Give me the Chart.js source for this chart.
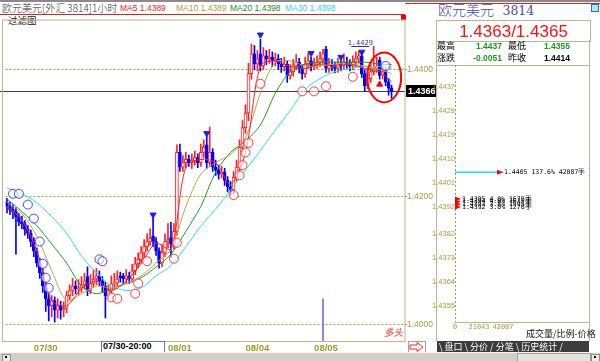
<!DOCTYPE html>
<html><head><meta charset="utf-8">
<script src="https://cdn.jsdelivr.net/npm/chart.js@4.4.1/dist/chart.umd.min.js"></script>
<style>
html,body{margin:0;padding:0}
body{width:600px;height:361px;overflow:hidden;background:#fff;position:relative;font-family:"Liberation Sans",Arial,"Noto Sans CJK SC",sans-serif}
.a{position:absolute;white-space:nowrap;line-height:1}
#c1{position:absolute;left:0;top:14px}
#c2{position:absolute;left:430px;top:60px}
</style></head><body>
<script>
// ---------- DATA ----------
const opens = [1.4192,1.4185,1.4180,1.4177,1.4169,1.4161,1.4158,1.4149,1.4143,1.4130,
1.4115,1.4096,1.4081,1.4060,1.4040,1.4029,1.4037,1.4022,1.4029,1.4022,
1.4025,1.4045,1.4053,1.4060,1.4056,1.4057,1.4062,1.4075,1.4053,1.4064,
1.4071,1.4076,1.4068,1.4060,1.4045,1.4053,1.4064,1.4065,1.4076,1.4076,
1.4071,1.4076,1.4071,1.4084,1.4095,1.4102,1.4112,1.4122,1.4130,1.4138,
1.4130,1.4115,1.4096,1.4112,1.4130,1.4136,1.4126,1.4146,1.4270,1.4247,
1.4254,1.4259,1.4254,1.4257,1.4262,1.4254,1.4270,1.4282,1.4254,1.4270,
1.4247,1.4242,1.4236,1.4239,1.4226,1.4216,1.4211,1.4231,1.4247,1.4278,
1.4309,1.4332,1.4394,1.4425,1.4409,1.4425,1.4406,1.4422,1.4417,1.4420,
1.4414,1.4417,1.4409,1.4405,1.4409,1.4391,1.4397,1.4406,1.4412,1.4402,
1.4394,1.4409,1.4414,1.4406,1.4409,1.4412,1.4417,1.4432,1.4402,1.4409,
1.4406,1.4402,1.4409,1.4406,1.4412,1.4409,1.4406,1.4412,1.4417,1.4422,
1.4394,1.4375,1.4386,1.4397,1.4402,1.4415,1.4391,1.4397,1.4381,1.4371];
const closes = [1.4185,1.4180,1.4177,1.4169,1.4161,1.4158,1.4149,1.4143,1.4130,1.4115,
1.4096,1.4081,1.4060,1.4040,1.4029,1.4037,1.4022,1.4029,1.4022,1.4025,
1.4045,1.4053,1.4060,1.4056,1.4057,1.4062,1.4068,1.4053,1.4064,1.4071,
1.4076,1.4068,1.4060,1.4045,1.4053,1.4064,1.4065,1.4071,1.4073,1.4071,
1.4076,1.4071,1.4084,1.4095,1.4102,1.4112,1.4122,1.4130,1.4135,1.4130,
1.4115,1.4096,1.4112,1.4130,1.4133,1.4126,1.4146,1.4270,1.4247,1.4254,
1.4259,1.4254,1.4257,1.4262,1.4254,1.4270,1.4278,1.4254,1.4270,1.4247,
1.4242,1.4236,1.4239,1.4226,1.4216,1.4211,1.4231,1.4247,1.4278,1.4309,
1.4332,1.4394,1.4425,1.4409,1.4417,1.4406,1.4422,1.4417,1.4420,1.4414,
1.4417,1.4409,1.4405,1.4409,1.4391,1.4397,1.4406,1.4412,1.4402,1.4394,
1.4409,1.4414,1.4406,1.4409,1.4412,1.4417,1.4425,1.4402,1.4409,1.4406,
1.4402,1.4409,1.4406,1.4412,1.4409,1.4406,1.4412,1.4417,1.4422,1.4394,
1.4375,1.4386,1.4397,1.4402,1.4406,1.4391,1.4397,1.4381,1.4371,1.4366];
const highs = [1.4198,1.4192,1.4188,1.4183,1.4174,1.4170,1.4163,1.4155,1.4148,1.4136,
1.4120,1.4104,1.4088,1.4066,1.4048,1.4045,1.4043,1.4040,1.4036,1.4035,
1.4052,1.4062,1.4072,1.4068,1.4070,1.4075,1.4080,1.4090,1.4078,1.4085,
1.4088,1.4084,1.4075,1.4066,1.4062,1.4076,1.4080,1.4084,1.4082,1.4080,
1.4086,1.4082,1.4094,1.4105,1.4112,1.4122,1.4133,1.4142,1.4150,1.4168,
1.4136,1.4120,1.4125,1.4142,1.4158,1.4160,1.4158,1.4282,1.4283,1.4265,
1.4270,1.4266,1.4268,1.4272,1.4268,1.4283,1.4290,1.4296,1.4310,1.4276,
1.4258,1.4250,1.4248,1.4245,1.4232,1.4224,1.4240,1.4258,1.4290,1.4320,
1.4345,1.4410,1.4440,1.4438,1.4430,1.4448,1.4435,1.4430,1.4432,1.4428,
1.4426,1.4424,1.4418,1.4420,1.4414,1.4408,1.4416,1.4424,1.4418,1.4408,
1.4420,1.4426,1.4420,1.4418,1.4422,1.4428,1.4432,1.4437,1.4418,1.4416,
1.4412,1.4418,1.4415,1.4425,1.4420,1.4416,1.4422,1.4428,1.4429,1.4426,
1.4400,1.4396,1.4408,1.4437,1.4420,1.4420,1.4405,1.4402,1.4386,1.4376];
const lows = [1.4175,1.4172,1.4166,1.4110,1.4155,1.4150,1.4140,1.4135,1.4122,1.4106,
1.4090,1.4072,1.4050,1.4020,1.4005,1.4012,1.4003,1.4010,1.4008,1.4012,
1.4018,1.4038,1.4045,1.4048,1.4046,1.4050,1.4055,1.4045,1.4048,1.4058,
1.4062,1.4060,1.4050,1.4010,1.4040,1.4048,1.4056,1.4060,1.4066,1.4064,
1.4065,1.4064,1.4066,1.4078,1.4088,1.4096,1.4105,1.4115,1.4124,1.4122,
1.4108,1.4088,1.4090,1.4106,1.4120,1.4105,1.4118,1.4140,1.4240,1.4240,
1.4246,1.4248,1.4245,1.4250,1.4246,1.4248,1.4262,1.4245,1.4248,1.4240,
1.4234,1.4228,1.4230,1.4218,1.4208,1.4203,1.4204,1.4225,1.4240,1.4270,
1.4300,1.4320,1.4385,1.4400,1.4398,1.4398,1.4400,1.4408,1.4410,1.4405,
1.4406,1.4400,1.4396,1.4398,1.4380,1.4385,1.4390,1.4400,1.4395,1.4385,
1.4388,1.4402,1.4398,1.4400,1.4402,1.4405,1.4410,1.4396,1.4396,1.4398,
1.4395,1.4396,1.4398,1.4400,1.4402,1.4398,1.4400,1.4405,1.4410,1.4388,
1.4366,1.4370,1.4380,1.4392,1.4396,1.4385,1.4385,1.4375,1.4360,1.4355];

const maIdx = [0,5,10,15,20,25,30,35,40,45,50,55,60,65,70,75,80,85,90,95,100,105,110,115,120,125,129];
const ma5  = [1.4185,1.4164,1.4115,1.4037,1.4029,1.4056,1.4068,1.4053,1.4068,1.4096,1.4127,1.4118,1.4247,1.4259,1.4254,1.4220,1.4270,1.4406,1.4414,1.4405,1.4402,1.4409,1.4405,1.4409,1.4402,1.4397,1.4381];
const ma10 = [1.4192,1.4174,1.4138,1.4084,1.4037,1.4048,1.4060,1.4057,1.4064,1.4076,1.4096,1.4118,1.4185,1.4236,1.4254,1.4267,1.4293,1.4363,1.4412,1.4414,1.4406,1.4406,1.4409,1.4409,1.4406,1.4400,1.4394];
const ma20 = [1.4197,1.4177,1.4155,1.4126,1.4096,1.4060,1.4048,1.4056,1.4064,1.4073,1.4090,1.4110,1.4146,1.4185,1.4239,1.4270,1.4288,1.4313,1.4363,1.4397,1.4409,1.4412,1.4412,1.4412,1.4412,1.4409,1.4408];
const ma30 = [1.4214,1.4205,1.4191,1.4169,1.4143,1.4107,1.4081,1.4060,1.4053,1.4057,1.4076,1.4092,1.4122,1.4154,1.4181,1.4211,1.4242,1.4273,1.4305,1.4336,1.4369,1.4386,1.4397,1.4402,1.4405,1.4405,1.4403];
const maLabels = ['MA5 1.4389','MA10 1.4389','MA20 1.4398','MA30 1.4398'];

const sellIdx = [2,4,7,9,11,12,13,14,31,32,127];
const sellPx  = [1.4205,1.4205,1.4188,1.4166,1.4130,1.4095,1.4073,1.4057,1.4102,1.4099,1.4406];
const buyIdx = [35,37,43,44,47,56,57,76,78,79,80,81,85,99,103,107,116];
const buyPx  = [1.4042,1.4040,1.4048,1.4064,1.4099,1.4103,1.4128,1.4203,1.4234,1.4250,1.4270,1.4285,1.4378,1.4366,1.4366,1.4374,1.4389];
const triDownIdx = [49,67,85,102,112,119];
const triDownPx  = [1.4172,1.4300,1.4455,1.4426,1.4420,1.4428];
const triUpIdx = [125];
const triUpPx  = [1.4377];

const dateTickIdx = [13,58,84,107];
const dateTickText = ['07/30','08/01','08/04','08/05'];
const yTickVals = [1.4000,1.4200,1.4400];
const lastPrice = 1.4366;
const markIdx = 106, markTop = 1.4040;

const pvPrices = [1.4405,1.4395,1.4394,1.4393,1.4392];
const pvVolumes = [42087,1679,1635,1595,1270];
const pvPct = ['137.6%','4.0%','4.0%','3.8%','3.0%'];
const pvTickVals = [1.4355,1.4364,1.4373,1.4382,1.4392,1.4401,1.4410,1.4419,1.4428,1.4437];
const volTickVals = [0,21043,42087];
</script>

<div class="a" style="left:0;top:0;width:600px;height:2px;background:#8a8a8a"></div>
<div class="a" style="left:405px;top:3px;width:195px;height:1px;background:#e02020"></div>
<div class="a" style="left:0;top:14px;width:405px;height:1px;background:#e02020"></div>
<div class="a" style="left:2px;top:3px;font-size:10px;color:#333;font-family:'Noto Sans CJK SC';font-weight:300">欧元美元[外汇 3814]1小时</div>
<div class="a" id="malab" style="top:4px;font-size:8.5px"></div>
<div class="a" style="left:8px;top:16px;font-size:9.5px;color:#222;font-family:'Noto Sans CJK SC'">过滤图</div>
<div class="a" style="left:401px;top:15px;width:5px;height:5px;background:#ff0000"></div>

<canvas id="c1" width="437" height="341"></canvas>

<div class="a" style="left:101px;top:341px;width:61px;height:10px;border:1px solid #6a6af0;border-bottom:none;background:#fff;font-size:9px;font-weight:bold;color:#000;padding-left:1px">07/30-20:00</div>
<div class="a" style="left:384px;top:328px;font-size:9.5px;color:#ff2020;font-family:'Noto Sans CJK SC';font-style:italic">多头</div>

<!-- right panel -->
<div class="a" style="left:438px;top:3px;font-size:14px;color:#4a4aa8;font-family:'DejaVu Serif','Noto Sans CJK SC';font-weight:300">欧元美元 <span style="font-size:12.5px">&nbsp;3814</span></div>
<div class="a" style="left:591px;top:4px;width:6px;height:6px;border:1px solid #3a6ab0;background:#a8e8f0"></div>
<div class="a" style="left:436px;top:20px;width:153px;height:20px;border:1px solid #b8b888"></div>
<div class="a" id="bigq" style="left:437px;top:23px;width:153px;text-align:center;font-size:17px;color:#ff1010"></div>
<div class="a" style="left:437px;top:41px;font-size:9px;color:#000;font-family:'Noto Sans CJK SC'">最高</div>
<div class="a" style="left:462px;top:42px;width:40px;text-align:right;font-size:8.5px;font-weight:bold;color:#1a9a1a">1.4437</div>
<div class="a" style="left:508px;top:41px;font-size:9px;color:#000;font-family:'Noto Sans CJK SC'">最低</div>
<div class="a" style="left:530px;top:42px;width:40px;text-align:right;font-size:8.5px;font-weight:bold;color:#1a9a1a">1.4355</div>
<div class="a" style="left:437px;top:53px;font-size:9px;color:#000;font-family:'Noto Sans CJK SC'">涨跌</div>
<div class="a" style="left:462px;top:54px;width:40px;text-align:right;font-size:8.5px;font-weight:bold;color:#1a9a1a">-0.0051</div>
<div class="a" style="left:508px;top:53px;font-size:9px;color:#000;font-family:'Noto Sans CJK SC'">昨收</div>
<div class="a" style="left:530px;top:54px;width:40px;text-align:right;font-size:8.5px;font-weight:bold;color:#000">1.4414</div>
<div class="a" style="left:436px;top:65px;width:154px;height:1px;background:#b8b888"></div>
<div class="a" style="left:436px;top:40px;width:1px;height:301px;background:#b8b888"></div>
<div class="a" style="left:589px;top:40px;width:1px;height:301px;background:#b8b888"></div>

<canvas id="c2" width="160" height="280"></canvas>

<div class="a" style="left:526px;top:329px;font-size:9px;color:#111;font-family:'Noto Sans CJK SC'">成交量/比例-价格</div>
<div class="a" style="left:437px;top:341px;width:150px;height:11px;background:#3c3c3c;color:#fff;font-size:9px;font-family:'Noto Sans CJK SC';line-height:11px;padding-left:2px">\ 盘口 \ 分价 / 分笔 \ 历史统计 /</div>
<svg class="a" style="left:408px;top:341px" width="18" height="12"><rect x="0.5" y="0.5" width="17" height="11" fill="#fff" stroke="#a0a0a0"/><polygon points="2,4 9,4 9,1.5 15,6 9,10.5 9,8 2,8" fill="#fff" stroke="#ff2020"/></svg>

<div class="a" style="left:0;top:352px;width:600px;height:9px;background:#d4d0c8;border-top:1px solid #f4f4f4"></div>
<div class="a" style="left:2px;top:354px;width:7px;height:6px;background:#eceae4;border:1px solid #909090"></div>
<div class="a" style="left:5px;top:356px;width:2px;height:2px;background:#000"></div>
<div class="a" style="left:517px;top:353px;width:72px;height:7px;background:#e6e2d8;border:1px solid #a0a0a0"></div>
<div class="a" style="left:591px;top:354px;width:7px;height:6px;background:#eceae4;border:1px solid #909090"></div>
<div class="a" style="left:594px;top:356px;width:2px;height:2px;background:#000"></div>

<script>
(function(){
  const colors = ['#ff2020','#b0a040','#209020','#30d8d8'];
  const lefts = [120,176,230,285];
  const box = document.getElementById('malab');
  maLabels.forEach((t,i)=>{
    const s = document.createElement('div');
    s.className='a'; s.style.left=lefts[i]+'px'; s.style.top='0'; s.style.color=colors[i]; s.textContent=t;
    box.appendChild(s);
  });
  document.getElementById('bigq').textContent = '1.4363/1.4365';
})();

const N = 134;
const labels = Array.from({length:N},(_,i)=>i);
const full = arr => { const r = new Array(N).fill(null); arr.forEach((v,i)=>r[i]=v); return r; };
const sparse = (idx, vals) => { const r = new Array(N).fill(null); idx.forEach((k,j)=>r[k]=vals[j]); return r; };
const RED='#ff2020', BLUE='#0000ff';
const isUp = opens.map((o,i)=>closes[i]>=o);
const candleCol = isUp.map(u=>u?RED:BLUE);
const bodyFill = isUp.map(u=>u?'#ffffff':BLUE);
const Y_MIN = 1.3972, Y_MAX = 1.4479;
const OLIVE = '#a0a038';

const overlay = {
  id:'overlay',
  beforeDatasetsDraw(chart){
    const {ctx, chartArea:a, scales:{y}} = chart;
    const py = Math.round(y.getPixelForValue(lastPrice))+0.5;
    ctx.save();
    ctx.strokeStyle='#404040'; ctx.lineWidth=1;
    ctx.beginPath(); ctx.moveTo(0,py); ctx.lineTo(a.right,py); ctx.stroke();
    ctx.restore();
  },
  afterDatasetsDraw(chart){
    const {ctx, chartArea:a, scales:{x,y}} = chart;
    ctx.save();
    const py = Math.round(y.getPixelForValue(lastPrice));
    ctx.fillStyle='#000'; ctx.fillRect(a.right+1, py-6, 31, 12);
    ctx.fillStyle='#fff'; ctx.font='bold 9px "Liberation Sans", Arial'; ctx.textBaseline='middle'; ctx.textAlign='left';
    ctx.fillText(lastPrice.toFixed(4), a.right+3, py+0.5);
    ctx.strokeStyle='#ff0000'; ctx.lineWidth=2;
    ctx.beginPath(); ctx.ellipse(x.getPixelForValue(126.5), y.getPixelForValue(1.4388), 17, 25, 0, 0, Math.PI*2); ctx.stroke();
    const hx = x.getPixelForValue(118.5), hy = y.getPixelForValue(1.4437);
    ctx.fillStyle='#3030c0'; ctx.font='7px "DejaVu Sans Mono", monospace'; ctx.textAlign='center'; ctx.textBaseline='bottom';
    ctx.fillText('1.4429', hx, hy);
    ctx.strokeStyle='#3030c0'; ctx.lineWidth=1;
    ctx.beginPath(); ctx.moveTo(hx-9, Math.round(hy)+0.5); ctx.lineTo(hx+9, Math.round(hy)+0.5); ctx.stroke();
    ctx.strokeStyle='#b8b888'; ctx.lineWidth=1;
    ctx.strokeRect(2.5, a.top+0.5, a.right-2.5, a.bottom-a.top-1);
    ctx.restore();
  }
};

new Chart(document.getElementById('c1'), {
  type:'bar',
  data:{ labels, datasets:[
    {type:'line', label:'sell', data:sparse(sellIdx,sellPx), showLine:false, pointStyle:'circle', pointRadius:4.5, borderColor:'#4646ff', backgroundColor:'rgba(255,255,255,0.6)', pointBorderWidth:1, order:0},
    {type:'line', label:'buy', data:sparse(buyIdx,buyPx), showLine:false, pointStyle:'circle', pointRadius:4.5, borderColor:'#ff3a3a', backgroundColor:'rgba(255,255,255,0.6)', pointBorderWidth:1, order:0},
    {type:'line', label:'tdown', data:sparse(triDownIdx,triDownPx), showLine:false, pointStyle:'triangle', rotation:180, pointRadius:3.5, borderColor:'#2020e0', backgroundColor:'#2020e0', order:0},
    {type:'line', label:'tup', data:sparse(triUpIdx,triUpPx), showLine:false, pointStyle:'triangle', pointRadius:3.5, borderColor:'#ff0000', backgroundColor:'#ff0000', order:0},
    {type:'line', label:'MA5', data:sparse(maIdx,ma5), spanGaps:true, borderColor:'#ff2020', borderWidth:1, pointRadius:0, tension:0.3, order:1},
    {type:'line', label:'MA10', data:sparse(maIdx,ma10), spanGaps:true, borderColor:'#b8a848', borderWidth:1, pointRadius:0, tension:0.3, order:1},
    {type:'line', label:'MA20', data:sparse(maIdx,ma20), spanGaps:true, borderColor:'#209a20', borderWidth:1, pointRadius:0, tension:0.3, order:1},
    {type:'line', label:'MA30', data:sparse(maIdx,ma30), spanGaps:true, borderColor:'#28e0e0', borderWidth:1, pointRadius:0, tension:0.3, order:1},
    {type:'bar', label:'body', data:full(opens.map((o,i)=>[o,closes[i]])), backgroundColor:full(bodyFill), borderColor:full(candleCol), borderWidth:1, borderSkipped:false, barThickness:3, grouped:false, order:2},
    {type:'bar', label:'wick', data:full(lows.map((l,i)=>[l,highs[i]])), backgroundColor:full(candleCol), barThickness:1, grouped:false, order:3},
    {type:'bar', label:'mark', data:sparse([markIdx],[[Y_MIN,markTop]]), backgroundColor:'#7070e8', barThickness:1, grouped:false, order:3}
  ]},
  options:{
    responsive:false, animation:false, events:[],
    layout:{padding:{left:3,top:1,right:0,bottom:0}},
    plugins:{legend:{display:false}, tooltip:{enabled:false}},
    scales:{
      x:{type:'category', offset:true, grid:{display:false, drawTicks:false}, border:{display:false},
         ticks:{autoSkip:false, maxRotation:0, padding:1, color:'#9c9c2c', font:{family:'"Liberation Sans", Arial', size:9.5, weight:'bold'},
           callback:(v,i)=>{ const k=dateTickIdx.indexOf(i); return k>=0?dateTickText[k]:''; }},
         afterFit:s=>{s.height=13;}},
      y:{position:'right', min:Y_MIN, max:Y_MAX,
         afterBuildTicks:s=>{s.ticks=yTickVals.map(v=>({value:v}));},
         grid:{color:OLIVE, lineWidth:1, drawTicks:true, tickLength:2}, border:{display:false, dash:[2,2]},
         ticks:{padding:0, color:'#a0a040', font:{family:'"Liberation Sans", Arial', size:8.5}, callback:v=>Number(v).toFixed(4)},
         afterFit:s=>{s.width=32;}}
    }
  },
  plugins:[overlay]
});

// ---------- right price-volume chart ----------
const pvLabels = {
  id:'pvLabels',
  afterDatasetsDraw(chart){
    const {ctx, chartArea:a} = chart;
    ctx.save();
    ctx.strokeStyle='#a0a040'; ctx.setLineDash([2,2]); ctx.lineWidth=1;
    ctx.beginPath(); ctx.moveTo(a.left+0.5,a.top); ctx.lineTo(a.left+0.5,a.bottom); ctx.stroke();
    ctx.setLineDash([]);
    ctx.font='6.5px "DejaVu Sans Mono", monospace'; ctx.textBaseline='middle'; ctx.textAlign='left';
    let k=0;
    chart.data.datasets.forEach((ds,di)=>{
      chart.getDatasetMeta(di).data.forEach((el,j)=>{
        const ex = Math.max(el.x, a.left+6), ey = el.y;
        ctx.fillStyle='#ff0000';
        ctx.beginPath(); ctx.moveTo(ex-6,ey-2.5); ctx.lineTo(ex,ey); ctx.lineTo(ex-6,ey+2.5); ctx.closePath(); ctx.fill();
        ctx.fillStyle='#000';
        ctx.fillText(pvPrices[k].toFixed(4)+' '+pvPct[k]+' '+pvVolumes[k]+'手', ex+1, ey);
        k++;
      });
    });
    ctx.restore();
  }
};
new Chart(document.getElementById('c2'), {
  type:'bar',
  data:{ datasets:[
    {label:'main', data:[{x:pvVolumes[0], y:pvPrices[0]}], backgroundColor:'#20e0e0', barThickness:1, grouped:false},
    {label:'small', data:pvVolumes.slice(1).map((v,i)=>({x:v, y:pvPrices[i+1]})), backgroundColor:'#ff2020', barThickness:2, grouped:false}
  ]},
  options:{
    indexAxis:'y', responsive:false, animation:false, events:[],
    layout:{padding:{top:5,right:1,left:0,bottom:0}},
    plugins:{legend:{display:false}, tooltip:{enabled:false}},
    scales:{
      x:{type:'linear', min:0, max:117500, grid:{display:false, drawTicks:false}, border:{display:true, color:'#b8b888'},
         afterBuildTicks:s=>{s.ticks=volTickVals.map(v=>({value:v}));},
         ticks:{padding:1, color:'#a0a040', font:{family:'"DejaVu Sans Mono", monospace', size:7}, callback:v=>String(v)},
         afterFit:s=>{s.height=18;}},
      y:{type:'linear', min:1.43537, max:1.44404, grid:{display:false, drawTicks:false}, border:{display:false},
         afterBuildTicks:s=>{s.ticks=pvTickVals.map(v=>({value:v}));},
         ticks:{padding:0, mirror:false, color:'#a0a040', font:{family:'"Liberation Sans", Arial', size:7.5}, callback:v=>Number(v).toFixed(4)},
         afterFit:s=>{s.width=25;}}
    }
  },
  plugins:[pvLabels]
});
</script>
</body></html>
